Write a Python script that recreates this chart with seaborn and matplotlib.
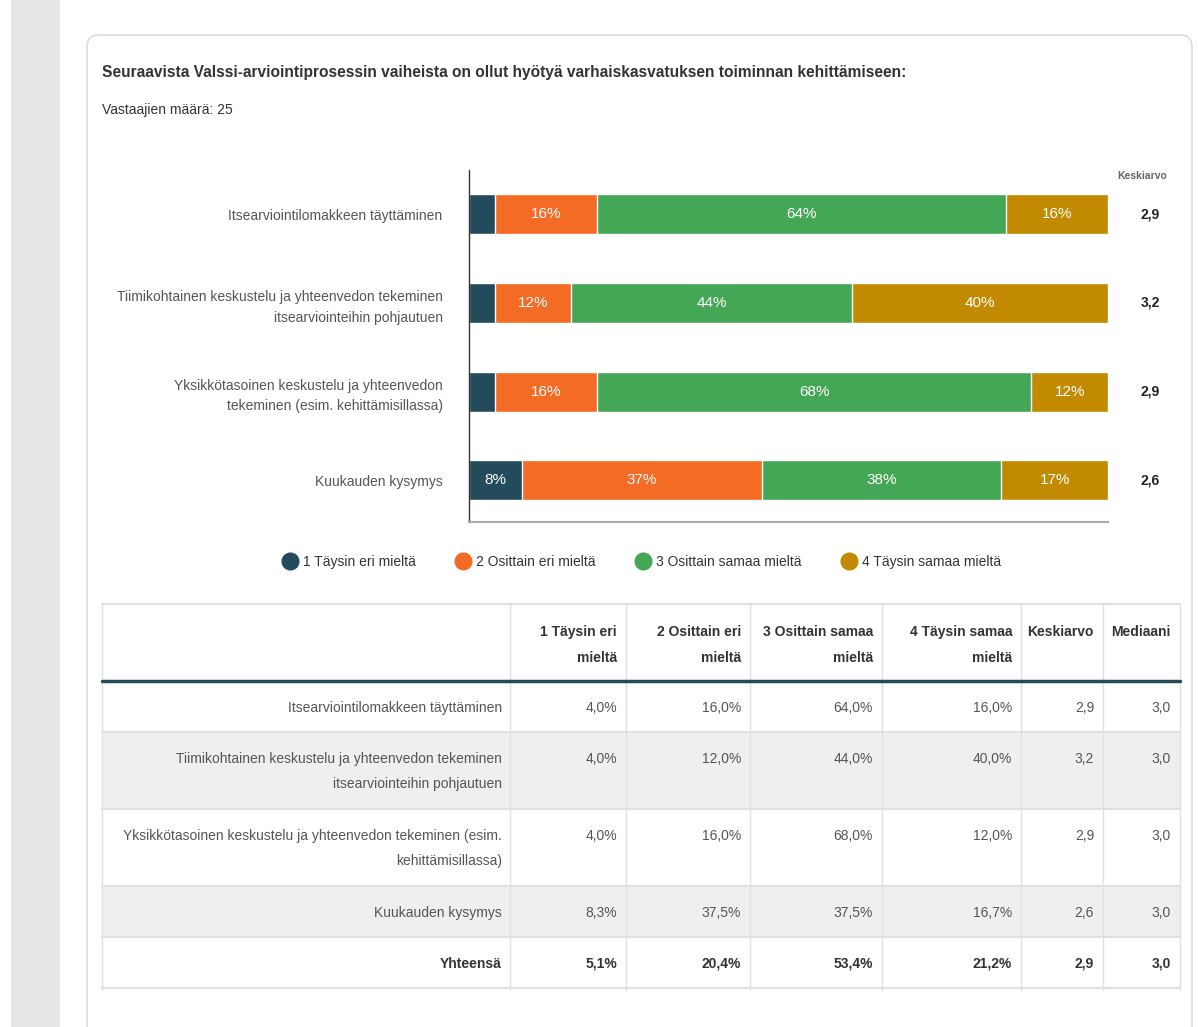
# Valssi-arviointi: stacked horizontal bars + summary table below

import numpy as np
import pandas as pd
import seaborn as sns
import matplotlib.pyplot as plt
from matplotlib.patches import FancyBboxPatch, Rectangle
from matplotlib.lines import Line2D

# --- data ---
categories = [
    "Itsearviointilomakkeen täyttäminen",
    "Tiimikohtainen keskustelu ja yhteenvedon tekeminen itsearviointeihin pohjautuen",
    "Yksikkötasoinen keskustelu ja yhteenvedon tekeminen (esim. kehittämisillassa)",
    "Kuukauden kysymys",
]
chart_labels = [
    "Itsearviointilomakkeen täyttäminen",
    "Tiimikohtainen keskustelu ja yhteenvedon tekeminen\nitsearviointeihin pohjautuen",
    "Yksikkötasoinen keskustelu ja yhteenvedon\ntekeminen (esim. kehittämisillassa)",
    "Kuukauden kysymys",
]
table_labels = [
    "Itsearviointilomakkeen täyttäminen",
    "Tiimikohtainen keskustelu ja yhteenvedon tekeminen\nitsearviointeihin pohjautuen",
    "Yksikkötasoinen keskustelu ja yhteenvedon tekeminen (esim.\nkehittämisillassa)",
    "Kuukauden kysymys",
]
levels = ["1 Täysin eri mieltä", "2 Osittain eri mieltä",
          "3 Osittain samaa mieltä", "4 Täysin samaa mieltä"]
table_headers = ["1 Täysin eri\nmieltä", "2 Osittain eri\nmieltä",
                 "3 Osittain samaa\nmieltä", "4 Täysin samaa\nmieltä",
                 "Keskiarvo", "Mediaani"]

pct_1 = [4.0, 4.0, 4.0, 8.3]
pct_2 = [16.0, 12.0, 16.0, 37.5]
pct_3 = [64.0, 44.0, 68.0, 37.5]
pct_4 = [16.0, 40.0, 12.0, 16.7]
bar_labels = [
    ["", "", "", "8%"],
    ["16%", "12%", "16%", "37%"],
    ["64%", "44%", "68%", "38%"],
    ["16%", "40%", "12%", "17%"],
]
means = [2.9, 3.2, 2.9, 2.6]
medians = [3.0, 3.0, 3.0, 3.0]
total_label = "Yhteensä"
total_pct = [5.1, 20.4, 53.4, 21.2]
total_mean = 2.9
total_median = 3.0
respondents = 25

colors = ["#244b5b", "#f36b24", "#44a756", "#c18a00"]


def fi(v, pct=False):
    s = f"{v:.1f}".replace(".", ",")
    return s + "%" if pct else s


sns.set_theme(style="white")
plt.rcParams['font.family'] = ['Liberation Sans', 'DejaVu Sans']

W, H = 1198, 1027
fig = plt.figure(figsize=(W / 100, H / 100), dpi=100)

# background canvas in pixel coords
bg = fig.add_axes([0, 0, 1, 1])
bg.set_xlim(0, W)
bg.set_ylim(H, 0)
bg.axis('off')
bg.add_patch(Rectangle((11, 0), 49, H, color="#e6e6e6", lw=0))
bg.add_patch(FancyBboxPatch((87, 35), 1105, 1100, boxstyle="round,pad=0,rounding_size=12",
                            fc="white", ec="#dddddd", lw=1.2))

bg.text(102, 72, "Seuraavista Valssi-arviointiprosessin vaiheista on ollut hyötyä "
        "varhaiskasvatuksen toiminnan kehittämiseen:",
        fontsize=11.2, fontweight='bold', color="#333333", va='center')
bg.text(102, 110, f"Vastaajien määrä: {respondents}", fontsize=10, color="#333333", va='center')

# --- stacked bar chart ---
ax = fig.add_axes([469 / W, 1 - 522 / H, 639 / W, 352 / H])
ax.set_facecolor('none')
series = np.array([pct_1, pct_2, pct_3, pct_4])
cum = np.cumsum(series, axis=0)
for k in reversed(range(4)):
    sns.barplot(x=cum[k], y=categories, orient='h', color=colors[k], saturation=1,
                width=0.45, edgecolor='white', linewidth=1, ax=ax)

for k in range(4):
    for i in range(len(categories)):
        if bar_labels[k][i]:
            left = cum[k - 1][i] if k > 0 else 0
            ax.text(left + series[k][i] / 2, i, bar_labels[k][i], ha='center', va='center',
                    color='white', fontsize=11)

for i, m in enumerate(means):
    ax.text(106.6, i, fi(m), ha='center', va='center', fontsize=10,
            fontweight='bold', color="#222222", clip_on=False)
bg.text(1142, 176, "Keskiarvo", ha='center', va='center', fontsize=7.5,
        fontweight='bold', color="#666666")

ax.set_xlim(0, 100)
ax.set_ylim(3.47, -0.5)
ax.set_xticks([])
ax.set_yticks(range(len(categories)))
ax.set_yticklabels(chart_labels, fontsize=10, color="#555555", linespacing=1.55)
ax.tick_params(axis='y', length=0, pad=19)
ax.set_xlabel('')
ax.set_ylabel('')
sns.despine(ax=ax, top=True, right=True)
ax.spines['left'].set_color('#333333')
ax.spines['left'].set_linewidth(1)
ax.spines['bottom'].set_color('#aaaaaa')
ax.spines['bottom'].set_linewidth(1.5)

handles = [Line2D([], [], marker='o', ls='', markersize=12, markerfacecolor=c,
                  markeredgecolor=c) for c in colors]
fig.legend(handles, levels, loc='center', bbox_to_anchor=(642 / W, 1 - 562 / H), ncol=4,
           frameon=False, fontsize=10, handlelength=1.0, handletextpad=0.45,
           columnspacing=2.9, labelcolor="#333333")

# --- table ---
col_edges = [102, 510, 626, 750, 882, 1021, 1103, 1180]
grid_c = "#e0e0e0"
txt_c = "#555555"
head_top, head_bot = 604, 681

rows = []
for i in range(len(categories)):
    rows.append((table_labels[i], [fi(v, True) for v in series[:, i]] + [fi(means[i]), fi(medians[i])], False))
rows.append((total_label, [fi(v, True) for v in total_pct] + [fi(total_mean), fi(total_median)], True))

y = head_bot
row_bounds = []
for r, (label, vals, bold) in enumerate(rows):
    n_lines = label.count("\n") + 1
    h = 51 if n_lines == 1 else 77
    if r % 2 == 1:
        bg.add_patch(Rectangle((col_edges[0], y), col_edges[-1] - col_edges[0], h,
                               color="#efefef", lw=0))
    fw = 'bold' if bold else 'normal'
    c = "#333333" if bold else txt_c
    for j, line in enumerate(label.split("\n")):
        bg.text(col_edges[1] - 8, y + 27 + 25 * j, line, ha='right', va='center',
                fontsize=10, color=c, fontweight=fw)
    for j, v in enumerate(vals):
        bg.text(col_edges[j + 2] - 9, y + 27, v, ha='right', va='center',
                fontsize=10, color=c, fontweight=fw)
    y += h
    row_bounds.append(y)
table_bot = y

for j, hd in enumerate(table_headers):
    for li, line in enumerate(hd.split("\n")):
        bg.text(col_edges[j + 2] - 9, 632 + 26 * li, line, ha='right', va='center',
                fontsize=10, fontweight='bold', color="#333333")

for x in col_edges:
    bg.plot([x, x], [head_top, table_bot + 2], color=grid_c, lw=1)
bg.plot([col_edges[0], col_edges[-1]], [head_top, head_top], color=grid_c, lw=1.5)
for yb in row_bounds:
    bg.plot([col_edges[0], col_edges[-1]], [yb, yb], color=grid_c, lw=1.5)
bg.plot([col_edges[0], col_edges[-1]], [head_bot, head_bot], color="#244b5b", lw=2.5)

fig.savefig("out.png", dpi=100)
